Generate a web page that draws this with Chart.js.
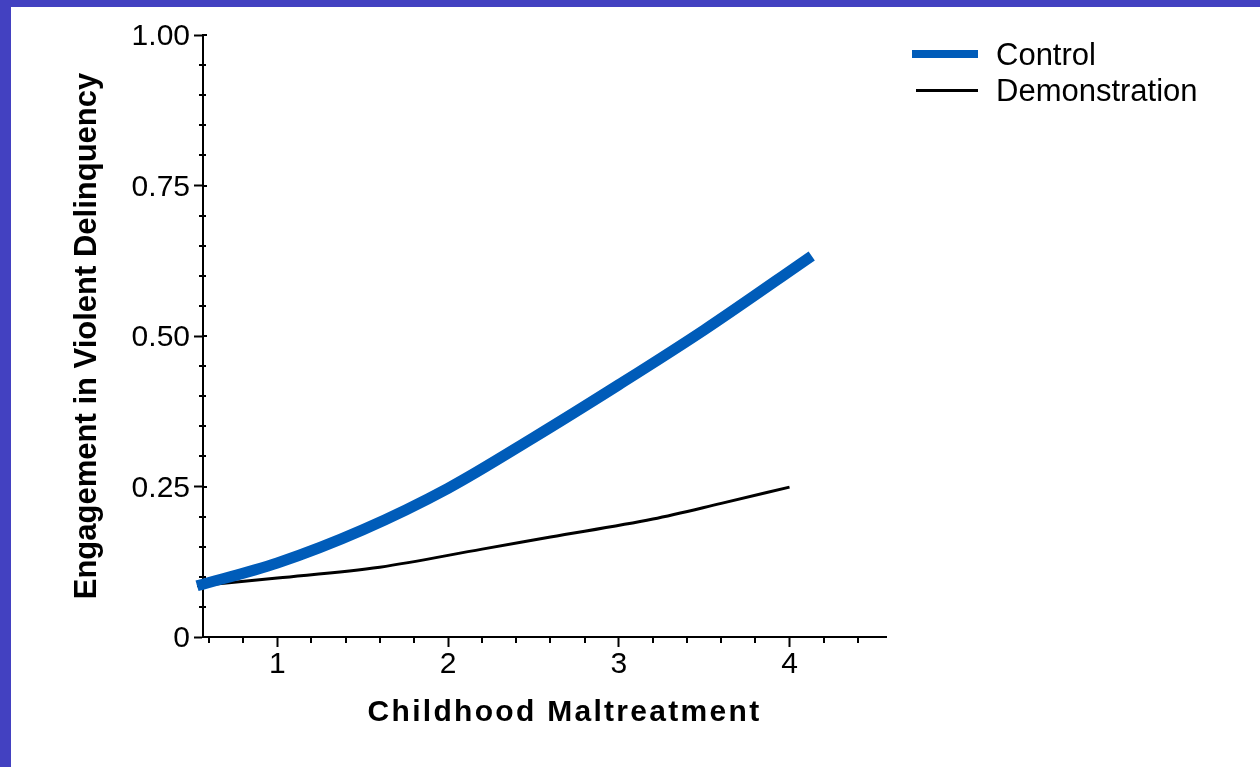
<!DOCTYPE html>
<html>
<head>
<meta charset="utf-8">
<script src="https://cdn.jsdelivr.net/npm/chart.js"></script>
<style>
  html, body { margin: 0; padding: 0; background: #fff; }
  #wrap { position: relative; width: 1260px; height: 767px; overflow: hidden; }
  #plot { position: absolute; left: 0; top: 0; }
  .bar { position: absolute; background: #4341c1; }
</style>
</head>
<body>
<div id="wrap">
  <canvas id="plot" width="1260" height="767"></canvas>
  <div class="bar" style="left:0;top:0;width:11px;height:767px"></div>
  <div class="bar" style="left:0;top:0;width:1260px;height:7px"></div>
</div>
<script>
// values
const seriesNames = ['Control', 'Demonstration'];
const controlX = [0.53, 1.0, 1.5, 2.0, 2.5, 3.0, 3.5, 4.13];
const controlY = [0.085, 0.123, 0.178, 0.247, 0.331, 0.419, 0.510, 0.633];
const demoX = [0.53, 1.0, 1.6, 2.2, 2.6, 3.2, 3.6, 4.0];
const demoY = [0.085, 0.098, 0.116, 0.146, 0.166, 0.196, 0.222, 0.249];
const xMajor = [1, 2, 3, 4];
const yMajor = [0, 0.25, 0.5, 0.75, 1];
const xTitle = 'Childhood Maltreatment';
const yTitle = 'Engagement in Violent Delinquency';

const FONT = '"Liberation Sans", Arial, sans-serif';

function isIn(list, v) {
  return list.some(m => Math.abs(m - v) < 1e-6);
}

// small ticks between the labelled ones + the bit that crosses the y axis
const minorTicks = {
  id: 'minorTicks',
  afterDraw(chart) {
    const ctx = chart.ctx;
    const xs = chart.scales.x, ys = chart.scales.y;
    ctx.save();
    ctx.strokeStyle = '#000';
    ctx.lineWidth = 2;
    ctx.beginPath();
    xs.ticks.forEach(t => {
      if (isIn(xMajor, t.value)) return;
      const p = Math.round(xs.getPixelForValue(t.value));
      ctx.moveTo(p, xs.top);
      ctx.lineTo(p, xs.top + 6);
    });
    ys.ticks.forEach(t => {
      const p = Math.round(ys.getPixelForValue(t.value));
      if (isIn(yMajor, t.value)) {
        ctx.moveTo(ys.right, p);
        ctx.lineTo(ys.right + 4, p);
      } else {
        ctx.moveTo(ys.right - 4, p);
        ctx.lineTo(ys.right + 3, p);
      }
    });
    ctx.stroke();
    ctx.restore();
  }
};

// spaced-out x axis title, a bit right of centre like the original
const xAxisTitle = {
  id: 'xAxisTitle',
  afterDraw(chart) {
    const ctx = chart.ctx;
    const xs = chart.scales.x;
    ctx.save();
    ctx.font = 'bold 30px ' + FONT;
    ctx.letterSpacing = '2.3px';
    ctx.fillStyle = '#000';
    ctx.textAlign = 'center';
    ctx.textBaseline = 'middle';
    ctx.fillText(xTitle, (xs.left + xs.right) / 2 + 20, 713);
    ctx.restore();
  }
};

// legend to the right of the plot
const sideLegend = {
  id: 'sideLegend',
  afterDraw(chart) {
    const ctx = chart.ctx;
    ctx.save();
    ctx.font = '31px ' + FONT;
    ctx.textBaseline = 'middle';
    ctx.fillStyle = '#000';
    chart.data.datasets.forEach((ds, i) => {
      const y = 54 + i * 36.5;
      ctx.strokeStyle = ds.borderColor;
      ctx.lineWidth = i === 0 ? 8 : 3;
      ctx.lineCap = 'butt';
      ctx.beginPath();
      ctx.moveTo(i === 0 ? 912 : 916, y);
      ctx.lineTo(978, y);
      ctx.stroke();
      ctx.fillText(ds.label, 996, y + 2);
    });
    ctx.restore();
  }
};

const ctx = document.getElementById('plot').getContext('2d');
const chart = new Chart(ctx, {
  type: 'line',
  data: {
    datasets: [{
      label: seriesNames[0],
      data: controlX.map((x, i) => ({x: x, y: controlY[i]})),
      borderColor: '#005cb9',
      borderWidth: 11,
      borderCapStyle: 'butt',
      pointRadius: 0,
      cubicInterpolationMode: 'monotone',
      fill: false,
      clip: false
    }, {
      label: seriesNames[1],
      data: demoX.map((x, i) => ({x: x, y: demoY[i]})),
      borderColor: '#000000',
      borderWidth: 3,
      pointRadius: 0,
      cubicInterpolationMode: 'monotone',
      fill: false,
      clip: false
    }]
  },
  options: {
    responsive: false,
    animation: false,
    layout: {
      padding: {top: 35, right: 374, bottom: 0, left: 0}
    },
    plugins: {
      legend: {display: false},
      tooltip: {enabled: false}
    },
    scales: {
      x: {
        type: 'linear',
        min: 0.565,
        max: 4.565,
        afterFit: s => { s.height = 130; },
        afterBuildTicks: s => {
          const t = [];
          for (let k = 3; k <= 22; k++) t.push({value: k / 5});
          s.ticks = t;
        },
        border: {display: true, color: '#000', width: 2},
        grid: {
          drawOnChartArea: false,
          drawTicks: true,
          tickLength: 10,
          tickWidth: 2,
          tickColor: c => (c.tick && isIn(xMajor, c.tick.value)) ? '#000' : 'rgba(0,0,0,0)'
        },
        ticks: {
          autoSkip: false,
          maxRotation: 0,
          padding: 0,
          color: '#000',
          font: {family: FONT, size: 30},
          callback: v => isIn(xMajor, v) ? String(Math.round(v)) : ''
        },
        title: {display: false, text: xTitle}
      },
      y: {
        min: 0,
        max: 1,
        afterFit: s => { s.width = 203; },
        border: {display: true, color: '#000', width: 2},
        grid: {
          drawOnChartArea: false,
          drawTicks: true,
          tickLength: 9,
          tickWidth: 2,
          tickColor: c => (c.tick && isIn(yMajor, c.tick.value)) ? '#000' : 'rgba(0,0,0,0)'
        },
        ticks: {
          stepSize: 0.05,
          autoSkip: false,
          padding: 4,
          labelOffset: 2,
          color: '#000',
          font: {family: FONT, size: 30},
          callback: v => {
            if (!isIn(yMajor, v)) return '';
            return Math.abs(v) < 1e-6 ? '0' : v.toFixed(2);
          }
        },
        title: {
          display: true,
          text: yTitle,
          color: '#000',
          font: {family: FONT, size: 31, weight: 'bold'},
          padding: {top: 69, bottom: 0}
        }
      }
    }
  },
  plugins: [minorTicks, xAxisTitle, sideLegend]
});
</script>
</body>
</html>
